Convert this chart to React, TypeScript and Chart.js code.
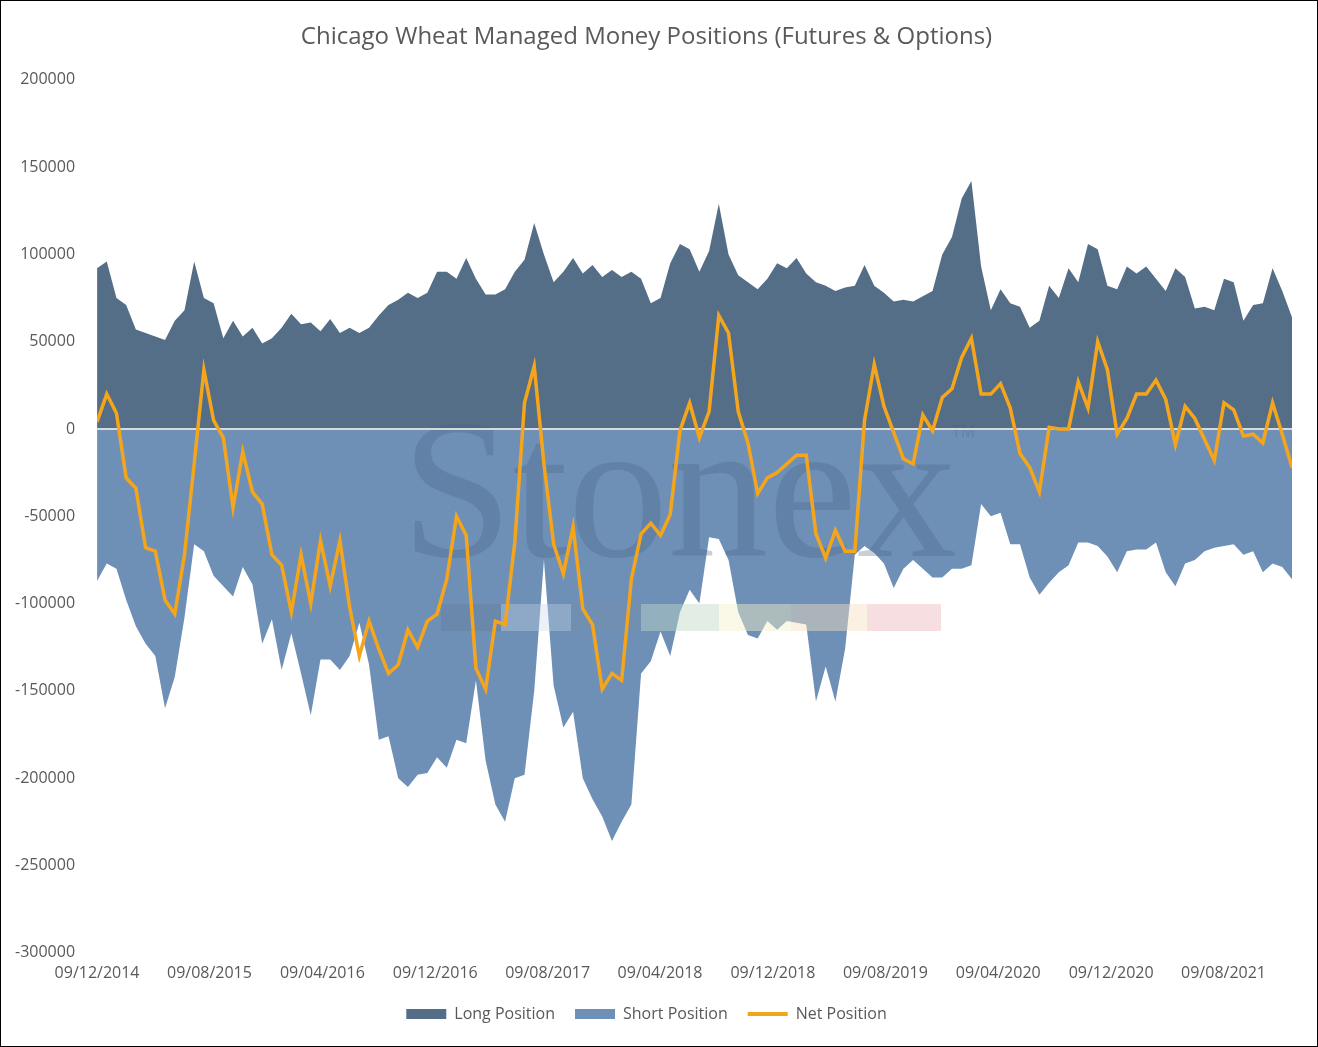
import React, { useEffect, useRef } from "react";
import { Chart, registerables } from "chart.js";
Chart.register(...registerables);

const START = Date.UTC(2014, 11, 9);
const STEP_DAYS = 21;
const DAY = 86400000;

// thousands of contracts, sampled every 3 weeks from 09/12/2014
const longPos = [92,96,75,71,57,55,53,51,62,68,96,75,72,52,62,53,58,49,52,58,66,60,61,56,63,55,58,55,58,65,71,74,78,75,78,90,90,86,98,86,77,77,80,90,97,118,100,84,90,98,89,94,87,91,87,90,86,72,75,95,106,103,90,102,129,100,88,84,80,86,95,92,98,89,84,82,79,81,82,94,82,78,73,74,73,76,79,100,110,132,142,93,68,80,72,70,58,62,82,75,92,84,106,103,82,80,93,89,93,86,79,92,87,69,70,68,86,84,62,71,72,92,79,64];
const shortPos = [-87,-77,-80,-98,-113,-123,-130,-160,-142,-108,-66,-70,-84,-90,-96,-79,-89,-123,-109,-138,-117,-140,-164,-132,-132,-138,-130,-111,-135,-178,-176,-200,-205,-198,-197,-188,-194,-178,-180,-144,-190,-215,-225,-200,-198,-150,-75,-147,-171,-162,-200,-212,-222,-236,-225,-215,-140,-133,-116,-130,-105,-92,-100,-62,-63,-75,-105,-118,-120,-110,-115,-110,-111,-112,-156,-136,-156,-126,-72,-67,-71,-77,-91,-80,-75,-80,-85,-85,-80,-80,-78,-43,-50,-48,-66,-66,-85,-95,-88,-82,-78,-65,-65,-67,-73,-82,-70,-69,-69,-65,-82,-90,-77,-75,-70,-68,-67,-66,-72,-70,-82,-77,-79,-86];
const netPos = [4,20,9,-28,-34,-68,-70,-98,-106,-72,-20,34,5,-5,-45,-13,-36,-43,-72,-78,-105,-72,-100,-64,-90,-64,-102,-130,-110,-126,-140,-135,-115,-125,-110,-106,-86,-50,-61,-137,-149,-110,-112,-65,15,36,-20,-66,-83,-56,-103,-112,-149,-140,-144,-86,-60,-54,-61,-49,-1,15,-5,10,65,55,10,-8,-37,-28,-25,-20,-15,-15,-60,-74,-58,-70,-70,5,37,13,-2,-17,-20,8,-1,18,23,41,52,20,20,26,12,-14,-22,-36,1,0,0,27,12,50,34,-3,6,20,20,28,17,-9,13,6,-6,-18,15,11,-4,-3,-8,15,-3,-22];

const yTicks = [200000,150000,100000,50000,0,-50000,-100000,-150000,-200000,-250000,-300000];
const tickMonthStep = 8;

const pts = (arr: number[]) => arr.map((v, i) => ({ x: i * STEP_DAYS, y: v * 1000 }));
const fmt = (d: Date) => {
  const p = (n: number) => String(n).padStart(2, "0");
  return `${p(d.getUTCDate())}/${p(d.getUTCMonth() + 1)}/${d.getUTCFullYear()}`;
};

const overlay = {
  id: "overlay",
  afterDatasetDraw(chart: any, args: any) {
    if (args.index !== 1) return;
    const { ctx, chartArea, scales } = chart;
    const y0 = scales.y.getPixelForValue(0);
    ctx.save();
    ctx.font = "200px 'Liberation Serif', serif";
    ctx.fillStyle = "rgba(70,95,130,0.3)";
    ctx.textAlign = "center";
    ctx.textBaseline = "alphabetic";
    ctx.fillText("Stonex", 678, 555);
    ctx.font = "16px 'Liberation Sans', sans-serif";
    ctx.fillText("TM", 962, 436);
    const cols = ["rgba(90,110,140,0.25)", "rgba(200,215,235,0.35)", "rgba(120,140,160,0.25)", "rgba(190,215,200,0.45)", "rgba(245,240,200,0.45)", "rgba(245,225,190,0.45)", "rgba(240,200,205,0.6)"];
    const xs = [440, 500, 570, 640, 718, 790, 866, 940];
    for (let i = 0; i < cols.length; i++) {
      ctx.fillStyle = cols[i];
      ctx.fillRect(xs[i], 603, xs[i + 1] - xs[i], 27);
    }
    ctx.strokeStyle = "#d9d9d9";
    ctx.lineWidth = 2;
    ctx.beginPath();
    ctx.moveTo(chartArea.left, y0);
    ctx.lineTo(chartArea.right, y0);
    ctx.stroke();
    ctx.restore();
  },
};

export default function App() {
  const ref = useRef<HTMLCanvasElement>(null);
  useEffect(() => {
    document.body.style.margin = "0";
    const maxX = (netPos.length - 1) * STEP_DAYS;
    const chart = new Chart(ref.current!, {
      type: "line",
      data: {
        datasets: [
          { label: "Long Position", data: pts(longPos), fill: "origin", backgroundColor: "#546E87", borderWidth: 0, pointRadius: 0, tension: 0, order: 2 },
          { label: "Short Position", data: pts(shortPos), fill: "origin", backgroundColor: "#6F90B6", borderWidth: 0, pointRadius: 0, tension: 0, order: 1 },
          { label: "Net Position", data: pts(netPos), fill: false, borderColor: "#F5A51C", backgroundColor: "#F5A51C", borderWidth: 3.5, pointRadius: 0, tension: 0, order: 0 },
        ],
      },
      plugins: [overlay],
      options: {
        animation: false,
        responsive: false,
        layout: { padding: { top: 14, left: 0, right: 25, bottom: 14 } },
        plugins: {
          title: { display: true, text: "Chicago Wheat Managed Money Positions (Futures & Options)", color: "#595959", font: { size: 24, family: "'Open Sans', sans-serif", weight: "normal" }, padding: { top: 8, bottom: 28 } },
          tooltip: { enabled: false },
          legend: {
            position: "bottom",
            labels: {
              color: "#595959",
              font: { size: 16, family: "'Open Sans', sans-serif" },
              usePointStyle: true,
              pointStyleWidth: 40,
              boxHeight: 10,
              padding: 20,
              generateLabels: (c: any) =>
                c.data.datasets.map((d: any, i: number) => ({
                  text: d.label,
                  fillStyle: d.backgroundColor,
                  strokeStyle: i === 2 ? d.borderColor : d.backgroundColor,
                  lineWidth: i === 2 ? 4 : 0,
                  pointStyle: i === 2 ? "line" : "rect",
                  fontColor: "#595959",
                  datasetIndex: i,
                })),
            },
          },
        },
        scales: {
          x: {
            type: "linear",
            min: 0,
            max: maxX,
            grid: { display: false },
            border: { display: false },
            afterBuildTicks: (axis: any) => {
              const ticks = [];
              for (let k = 0; ; k++) {
                const t = Date.UTC(2014, 11 + k * tickMonthStep, 9);
                const v = (t - START) / DAY;
                if (v > maxX) break;
                ticks.push({ value: v });
              }
              axis.ticks = ticks;
            },
            ticks: {
              color: "#595959",
              font: { size: 16, family: "'Open Sans', sans-serif" },
              maxRotation: 0,
              autoSkip: false,
              callback: (v: any) => fmt(new Date(START + Number(v) * DAY)),
            },
          },
          y: {
            min: -300000,
            max: 200000,
            grid: { display: false },
            border: { display: false },
            afterBuildTicks: (axis: any) => { axis.ticks = yTicks.map((v) => ({ value: v })); },
            ticks: { color: "#595959", font: { size: 16, family: "'Open Sans', sans-serif" }, padding: 14, callback: (v: any) => String(v) },
          },
        },
      },
    });
    return () => chart.destroy();
  }, []);
  return (
    <div style={{ width: 1318, height: 1047, boxSizing: "border-box", border: "1px solid #000", background: "#fff" }}>
      <canvas ref={ref} width={1316} height={1045} />
    </div>
  );
}
